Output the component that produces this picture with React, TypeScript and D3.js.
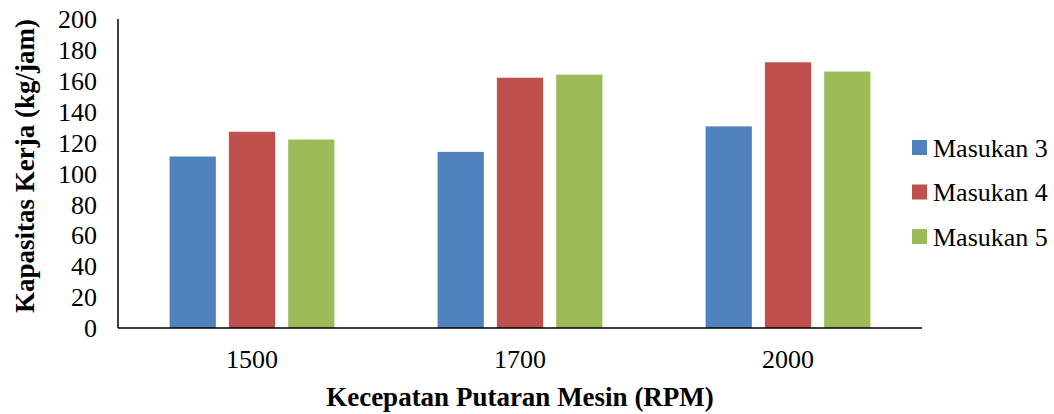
import React from "react";
import * as d3 from "d3";

const categories = ["1500", "1700", "2000"];
const seriesNames = ["Masukan 3", "Masukan 4", "Masukan 5"];
const masukan3 = [111, 114, 130.5];
const masukan4 = [127, 162, 172];
const masukan5 = [122, 164, 166];
const yTicks = [0, 20, 40, 60, 80, 100, 120, 140, 160, 180, 200];
const colors = ["#4F81BD", "#C0504D", "#9BBB59"];

const W = 1054;
const H = 414;
const left = 118;
const right = 922;
const top = 19;
const bottom = 328;
const fontStyle = { fontFamily: "'Liberation Serif', 'Times New Roman', serif" };

export default function App() {
  const values = [masukan3, masukan4, masukan5];
  const x0 = d3.scaleBand<string>().domain(categories).range([left, right]);
  const x1 = d3
    .scaleBand<string>()
    .domain(seriesNames)
    .range([0, x0.bandwidth()])
    .paddingInner(0.22)
    .paddingOuter(0.87);
  const y = d3.scaleLinear().domain([0, 200]).range([bottom, top]);

  return (
    <svg
      width={W}
      height={H}
      style={{ position: "absolute", left: 0, top: 0, background: "#fff", ...fontStyle }}
    >
      {categories.map((c, ci) => (
        <g key={c} transform={`translate(${x0(c)},0)`}>
          {seriesNames.map((s, si) => {
            const v = values[si][ci];
            return (
              <rect
                key={s}
                x={x1(s)}
                y={y(v)}
                width={x1.bandwidth()}
                height={y(0) - y(v)}
                fill={colors[si]}
              />
            );
          })}
        </g>
      ))}
      <line x1={left} x2={left} y1={top} y2={bottom} stroke="#000" strokeWidth={1.5} />
      <line x1={left} x2={right} y1={bottom} y2={bottom} stroke="#000" strokeWidth={1.5} />
      {yTicks.map((t) => (
        <text
          key={t}
          x={97}
          y={y(t)}
          dy="0.35em"
          textAnchor="end"
          fontSize={26}
          fill="#000"
          style={fontStyle}
        >
          {t}
        </text>
      ))}
      {categories.map((c) => (
        <text
          key={c}
          x={(x0(c) as number) + x0.bandwidth() / 2}
          y={368}
          textAnchor="middle"
          fontSize={26}
          fill="#000"
          style={fontStyle}
        >
          {c}
        </text>
      ))}
      <text
        x={(left + right) / 2}
        y={406}
        textAnchor="middle"
        fontSize={27}
        fontWeight="bold"
        fill="#000"
        style={fontStyle}
      >
        Kecepatan Putaran Mesin (RPM)
      </text>
      <text
        transform={`translate(34,166) rotate(-90)`}
        textAnchor="middle"
        fontSize={27}
        fontWeight="bold"
        fill="#000"
        style={fontStyle}
      >
        Kapasitas Kerja (kg/jam)
      </text>
      {seriesNames.map((s, i) => {
        const cy = 147.5 + i * 44.5;
        return (
          <g key={s}>
            <rect x={912} y={cy - 7.5} width={15} height={15} fill={colors[i]} />
            <text x={933} y={cy} dy="0.35em" fontSize={26} fill="#000" style={fontStyle}>
              {s}
            </text>
          </g>
        );
      })}
    </svg>
  );
}
